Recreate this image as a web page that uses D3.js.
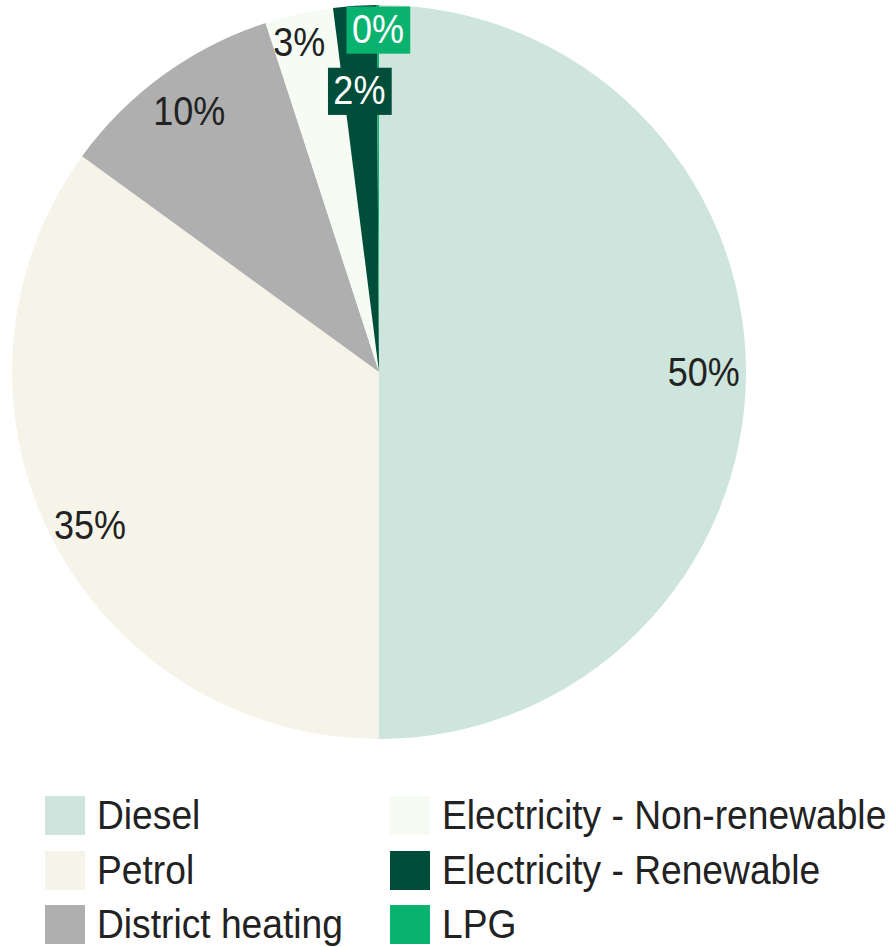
<!DOCTYPE html>
<html><head><meta charset="utf-8">
<script src="https://cdn.jsdelivr.net/npm/d3@7"></script>
<style>html,body{margin:0;padding:0;background:#fff;}svg{display:block;}</style>
</head><body>
<svg id="chart" width="892" height="947"></svg>
<script>
const categories = ["Diesel","Petrol","District heating","Electricity - Non-renewable","Electricity - Renewable","LPG"];
const values = [50.0, 35.0, 10.0, 3.0, 1.9, 0.1];
const labels = ["50%","35%","10%","3%","2%","0%"];
const colors = ["#cde5dc","#f6f4e9","#afafaf","#f6fbf4","#004d3a","#0ab26f"];
const labelBoxed = [false,false,false,false,true,true];
// label placement: radius factor and angle nudge (degrees)
const labelRadius = [0.885, 0.89, 0.88, 0.925, 0.77, 0.935];
const labelNudge = [0, -0.8, 0, -1.0, -0.2, 0];

const svg = d3.select("#chart");
const cx = 379, cy = 372, R = 367;
const FONT = "'Liberation Sans', Arial, sans-serif";
const SX = 0.9;

const pie = d3.pie().sort(null).value(d => d)(values);
const arc = d3.arc().innerRadius(0).outerRadius(R);
const g = svg.append("g").attr("transform", `translate(${cx},${cy})`);
g.selectAll("path.slice").data(pie).join("path")
  .attr("class","slice").attr("d", arc).attr("fill", (d,i) => colors[i]);

const lg = g.append("g");
pie.forEach((d,i) => {
  const a = (d.startAngle + d.endAngle)/2 + labelNudge[i]*Math.PI/180;
  const r = R*labelRadius[i];
  const x = r*Math.sin(a), y = -r*Math.cos(a);
  const grp = lg.append("g").attr("transform", `translate(${x},${y}) scale(${SX},1)`);
  const t = grp.append("text").attr("text-anchor","middle").attr("dy","0.36em")
    .attr("font-family", FONT).attr("font-size", 40)
    .attr("fill", labelBoxed[i] ? "#ffffff" : "#222222").text(labels[i]);
  if (labelBoxed[i]) {
    const bb = t.node().getBBox();
    grp.insert("rect","text").attr("x", bb.x-6).attr("y", bb.y-1)
      .attr("width", bb.width+13).attr("height", bb.height+3).attr("fill", colors[i]);
  }
});

// legend
const legCols = [45, 390], legRows = [796, 851, 905];
const leg = svg.append("g");
categories.forEach((c,i) => {
  const col = Math.floor(i/3), row = i%3;
  const x = legCols[col], y = legRows[row];
  leg.append("rect").attr("x", x).attr("y", y).attr("width", 40).attr("height", 39).attr("fill", colors[i]);
  leg.append("text").attr("transform", `translate(${x+52},${y+33}) scale(0.93,1)`)
    .attr("font-family", FONT).attr("font-size", 40).attr("fill","#222222").text(c);
});
</script>
</body></html>
